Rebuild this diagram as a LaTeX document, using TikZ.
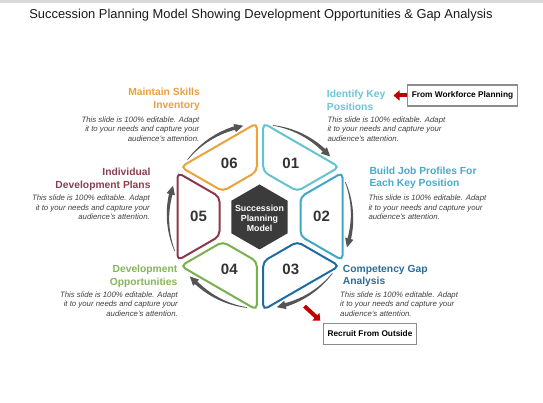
\documentclass[tikz,border=0pt]{standalone}
\usepackage{fontspec}
\setmainfont{Liberation Sans}
\usetikzlibrary{arrows.meta}
\definecolor{seg01}{HTML}{64C3D1}
\definecolor{seg02}{HTML}{41A7C7}
\definecolor{seg03}{HTML}{1E6CA0}
\definecolor{seg04}{HTML}{7AB04C}
\definecolor{seg05}{HTML}{8A3A4C}
\definecolor{seg06}{HTML}{EAA23A}
\definecolor{lab01}{HTML}{6CC6D6}
\definecolor{lab02}{HTML}{48AACB}
\definecolor{lab03}{HTML}{2A6E9C}
\definecolor{lab04}{HTML}{86B55A}
\definecolor{lab05}{HTML}{8B3F52}
\definecolor{lab06}{HTML}{E8A041}
\definecolor{desccol}{HTML}{404040}
\definecolor{numcol}{HTML}{333333}
\definecolor{hubcol}{HTML}{3B3B3B}
\definecolor{arrowgray}{HTML}{545454}
\definecolor{redc}{HTML}{C00000}
\definecolor{boxgray}{HTML}{8C8C8C}
\definecolor{titlecol}{HTML}{1A1A1A}
\definecolor{barcol}{HTML}{DADADA}
\begin{document}
\begin{tikzpicture}[x=1pt,y=1pt,
  seg/.style={line width=2pt, rounded corners=5pt, fill=white},
  head/.style={font=\bfseries\fontsize{10.3}{12.5}\selectfont, inner sep=0pt},
  desc/.style={font=\itshape\fontsize{7.8}{9.3}\selectfont, text=desccol, inner sep=0pt},
  num/.style={font=\bfseries\fontsize{15}{15}\selectfont, text=numcol, inner sep=0pt},
  hubtext/.style={font=\bfseries\fontsize{8.8}{10}\selectfont, text=white, align=center, inner sep=0pt},
  tagbox/.style={draw=boxgray, line width=1.5pt, fill=white, font=\bfseries\fontsize{8.3}{9}\selectfont, minimum height=21pt, inner sep=0pt},
  redarrow/.style={draw=redc, line width=4pt, -{Triangle[length=6pt,width=10pt]}}
]
\useasboundingbox (0,0) rectangle (543,403);
\fill[white] (0,0) rectangle (543,403);
\fill[barcol] (0,400) rectangle (543,403);

% title
\node[font=\fontsize{12.9}{14}\selectfont, text=titlecol, anchor=base, inner sep=0pt] (title) at (261,384)
  {Succession Planning Model Showing Development Opportunities \& Gap Analysis};

% segments
\foreach \ang/\col in {60/seg01, 0/seg02, -60/seg03, -120/seg04, 180/seg05, 120/seg06} {
  \begin{scope}[shift={(260,186.5)}, rotate=\ang]
    \draw[seg, draw=\col] (40.5,-19.68) -- (82.5,-43.93) -- (82.5,43.93) -- (40.5,19.68) -- cycle;
  \end{scope}
}

% hub
\begin{scope}[shift={(259.5,186)}]
  \fill[hubcol] (90:32.5) -- (150:32.5) -- (210:32.5) -- (270:32.5) -- (330:32.5) -- (30:32.5) -- cycle;
\end{scope}
\node[hubtext] (hub) at (259.5,185) {Succession\\Planning\\Model};

% circular arrows
\begin{scope}[shift={(260,186.5)}]
\foreach \p in {120,60,0,-60,-120,180} {
  \fill[arrowgray] plot[domain=0:1,samples=30,variable=\q] ({\p+22-36.5*\q}:{92.3+1.5*\q})
     -- plot[domain=1:0,samples=30,variable=\q] ({\p+22-36.5*\q}:{91.7-1.5*\q}) -- cycle;
  \fill[arrowgray] ({\p-14}:96.3) -- ({\p-19.5}:92.3) -- ({\p-14}:87.7) -- cycle;
}
\end{scope}

% numbers
\node[num] (n01) at (290.75,239.76) {01};
\node[num] (n02) at (321.5,186.5) {02};
\node[num] (n03) at (290.75,133.24) {03};
\node[num] (n04) at (229.25,133.24) {04};
\node[num] (n05) at (198.5,186.5) {05};
\node[num] (n06) at (229.25,239.76) {06};

% left labels
\node[head, text=lab06, anchor=north east, align=right] (h06) at (200,314.7) {Maintain Skills\\Inventory};
\node[desc, anchor=north east, align=right] (d06) at (199.5,286.3) {This slide is 100\% editable. Adapt\\it to your needs and capture your\\audience's attention.};
\node[head, text=lab05, anchor=north east, align=right] (h05) at (150.7,234.7) {Individual\\Development Plans};
\node[desc, anchor=north east, align=right] (d05) at (150,208) {This slide is 100\% editable. Adapt\\it to your needs and capture your\\audience's attention.};
\node[head, text=lab04, anchor=north east, align=right] (h04) at (177.5,138) {Development\\Opportunities};
\node[desc, anchor=north east, align=right] (d04) at (178,111.3) {This slide is 100\% editable. Adapt\\it to your needs and capture your\\audience's attention.};

% right labels
\node[head, text=lab01, anchor=north west, align=left] (h01) at (326.7,313) {Identify Key\\Positions};
\node[desc, anchor=north west, align=left] (d01) at (327.3,286.3) {This slide is 100\% editable. Adapt\\it to your needs and capture your\\audience's attention.};
\node[head, text=lab02, anchor=north west, align=left] (h02) at (369.3,236.3) {Build Job Profiles For\\Each Key Position};
\node[desc, anchor=north west, align=left] (d02) at (368.3,208) {This slide is 100\% editable. Adapt\\it to your needs and capture your\\audience's attention.};
\node[head, text=lab03, anchor=north west, align=left] (h03) at (342.7,138) {Competency Gap\\Analysis};
\node[desc, anchor=north west, align=left] (d03) at (340,111.3) {This slide is 100\% editable. Adapt\\it to your needs and capture your\\audience's attention.};

% boxes and red arrows
\node[tagbox, minimum width=109.6pt] (fwp) at (462.5,307.5) {From Workforce Planning};
\node[tagbox, minimum width=93.4pt] (rfo) at (370,69) {Recruit From Outside};
\coordinate (fwptip) at (393.5,307.5);
\coordinate (rtail) at (304.5,96.8);
\draw[redarrow] (fwp.west) -- (fwptip);
\draw[redarrow, shorten >=3pt] (rtail) -- (rfo.north west);
\end{tikzpicture}
\end{document}
